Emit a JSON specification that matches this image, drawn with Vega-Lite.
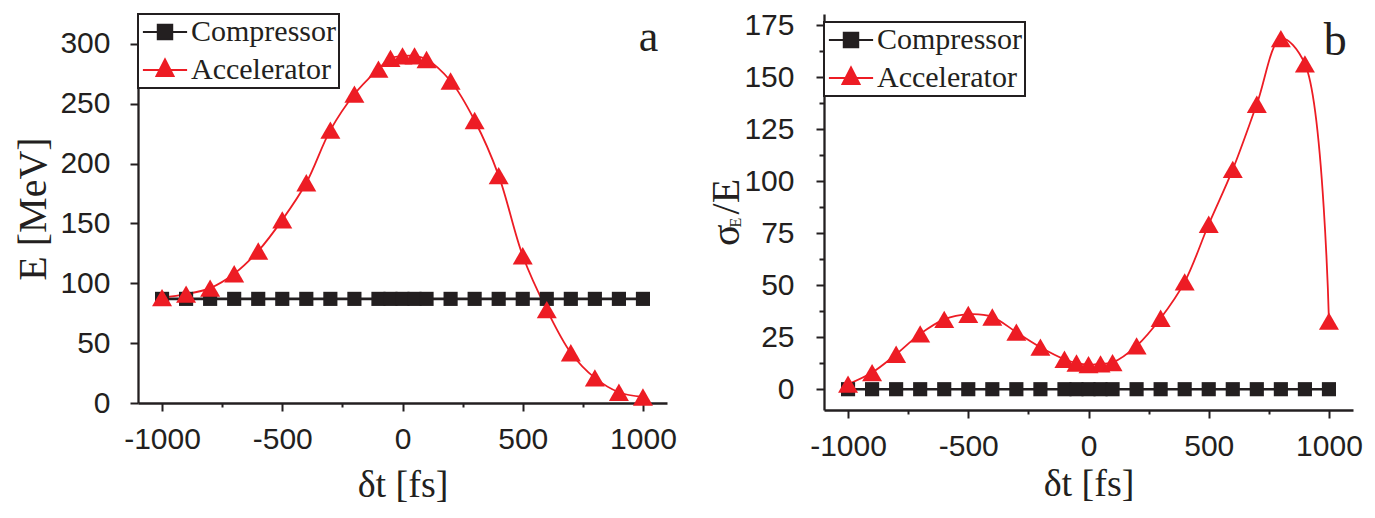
{
  "$schema": "https://vega.github.io/schema/vega-lite/v6.json",
  "padding": {"left": 13, "top": 10, "right": 5, "bottom": 0},
  "background": "white",
  "spacing": 29,
  "config": {
    "view": {"stroke": null},
    "axis": {"grid": false, "domainColor": "#231F20", "domainWidth": 2.3, "tickColor": "#231F20", "tickWidth": 2, "labelFont": "Liberation Sans", "labelFontSize": 30, "labelColor": "#231F20", "titleFont": "Liberation Serif", "titleFontWeight": "normal", "titleColor": "#231F20", "labelOverlap": false, "labelFlush": false, "labelBound": false},
    "legend": {"orient": "top-left", "offset": 0, "title": null, "padding": 3, "rowPadding": 8, "symbolSize": 289, "symbolOffset": 9, "labelOffset": 11, "symbolOpacity": 1, "symbolStrokeWidth": 2, "labelFont": "Liberation Serif", "labelFontSize": 30, "labelColor": "#231F20", "labelLimit": 400, "strokeColor": "#231F20", "strokeWidth": 2, "fillColor": "white"}
  },
  "datasets": {
    "a": [
      {"series": "Compressor", "t": -1000, "v": 87}, {"series": "Compressor", "t": -900, "v": 87}, {"series": "Compressor", "t": -800, "v": 87}, {"series": "Compressor", "t": -700, "v": 87}, {"series": "Compressor", "t": -600, "v": 87}, {"series": "Compressor", "t": -500, "v": 87}, {"series": "Compressor", "t": -400, "v": 87}, {"series": "Compressor", "t": -300, "v": 87}, {"series": "Compressor", "t": -200, "v": 87}, {"series": "Compressor", "t": -100, "v": 87}, {"series": "Compressor", "t": -50, "v": 87}, {"series": "Compressor", "t": 0, "v": 87}, {"series": "Compressor", "t": 50, "v": 87}, {"series": "Compressor", "t": 100, "v": 87}, {"series": "Compressor", "t": 200, "v": 87}, {"series": "Compressor", "t": 300, "v": 87}, {"series": "Compressor", "t": 400, "v": 87}, {"series": "Compressor", "t": 500, "v": 87}, {"series": "Compressor", "t": 600, "v": 87}, {"series": "Compressor", "t": 700, "v": 87}, {"series": "Compressor", "t": 800, "v": 87}, {"series": "Compressor", "t": 900, "v": 87}, {"series": "Compressor", "t": 1000, "v": 87},
      {"series": "Accelerator", "t": -1000, "v": 88}, {"series": "Accelerator", "t": -900, "v": 91}, {"series": "Accelerator", "t": -800, "v": 96}, {"series": "Accelerator", "t": -700, "v": 108}, {"series": "Accelerator", "t": -600, "v": 127}, {"series": "Accelerator", "t": -500, "v": 153}, {"series": "Accelerator", "t": -400, "v": 184}, {"series": "Accelerator", "t": -300, "v": 228}, {"series": "Accelerator", "t": -200, "v": 258}, {"series": "Accelerator", "t": -100, "v": 279}, {"series": "Accelerator", "t": -50, "v": 288}, {"series": "Accelerator", "t": 0, "v": 290}, {"series": "Accelerator", "t": 50, "v": 290}, {"series": "Accelerator", "t": 100, "v": 287}, {"series": "Accelerator", "t": 200, "v": 269}, {"series": "Accelerator", "t": 300, "v": 236}, {"series": "Accelerator", "t": 400, "v": 190}, {"series": "Accelerator", "t": 500, "v": 123}, {"series": "Accelerator", "t": 600, "v": 78}, {"series": "Accelerator", "t": 700, "v": 42}, {"series": "Accelerator", "t": 800, "v": 21}, {"series": "Accelerator", "t": 900, "v": 9}, {"series": "Accelerator", "t": 1000, "v": 5}
    ],
    "b": [
      {"series": "Compressor", "t": -1000, "v": 0}, {"series": "Compressor", "t": -900, "v": 0}, {"series": "Compressor", "t": -800, "v": 0}, {"series": "Compressor", "t": -700, "v": 0}, {"series": "Compressor", "t": -600, "v": 0}, {"series": "Compressor", "t": -500, "v": 0}, {"series": "Compressor", "t": -400, "v": 0}, {"series": "Compressor", "t": -300, "v": 0}, {"series": "Compressor", "t": -200, "v": 0}, {"series": "Compressor", "t": -100, "v": 0}, {"series": "Compressor", "t": -50, "v": 0}, {"series": "Compressor", "t": 0, "v": 0}, {"series": "Compressor", "t": 50, "v": 0}, {"series": "Compressor", "t": 100, "v": 0}, {"series": "Compressor", "t": 200, "v": 0}, {"series": "Compressor", "t": 300, "v": 0}, {"series": "Compressor", "t": 400, "v": 0}, {"series": "Compressor", "t": 500, "v": 0}, {"series": "Compressor", "t": 600, "v": 0}, {"series": "Compressor", "t": 700, "v": 0}, {"series": "Compressor", "t": 800, "v": 0}, {"series": "Compressor", "t": 900, "v": 0}, {"series": "Compressor", "t": 1000, "v": 0},
      {"series": "Accelerator", "t": -1000, "v": 2.4}, {"series": "Accelerator", "t": -900, "v": 8}, {"series": "Accelerator", "t": -800, "v": 16.8}, {"series": "Accelerator", "t": -700, "v": 26.6}, {"series": "Accelerator", "t": -600, "v": 33.6}, {"series": "Accelerator", "t": -500, "v": 36}, {"series": "Accelerator", "t": -400, "v": 34.7}, {"series": "Accelerator", "t": -300, "v": 27.4}, {"series": "Accelerator", "t": -200, "v": 20.2}, {"series": "Accelerator", "t": -100, "v": 14.4}, {"series": "Accelerator", "t": -50, "v": 12.6}, {"series": "Accelerator", "t": 0, "v": 11.8}, {"series": "Accelerator", "t": 50, "v": 12.2}, {"series": "Accelerator", "t": 100, "v": 12.8}, {"series": "Accelerator", "t": 200, "v": 20.8}, {"series": "Accelerator", "t": 300, "v": 34.1}, {"series": "Accelerator", "t": 400, "v": 51.6}, {"series": "Accelerator", "t": 500, "v": 79.3}, {"series": "Accelerator", "t": 600, "v": 105.7}, {"series": "Accelerator", "t": 700, "v": 137}, {"series": "Accelerator", "t": 800, "v": 168.6}, {"series": "Accelerator", "t": 900, "v": 156.4}, {"series": "Accelerator", "t": 1000, "v": 32.7}
    ]
  },
  "resolve": {"legend": {"fill": "independent", "stroke": "independent", "shape": "independent"}},
  "hconcat": [
    {
      "width": 529,
      "height": 389,
      "layer": [
        {
          "data": {"name": "a"},
          "encoding": {
            "x": {"field": "t", "type": "quantitative", "scale": {"domain": [-1100, 1100], "nice": false, "zero": false},
              "axis": {"values": [-1000, -750, -500, -250, 0, 250, 500, 750, 1000], "labelExpr": "datum.value % 500 === 0 ? toString(datum.value) : ''", "tickSize": {"condition": {"test": "datum.value % 500 === 0", "value": 8}, "value": 4}, "labelPadding": 13, "title": "δt [fs]", "titleFontSize": 38, "titlePadding": 12}},
            "y": {"field": "v", "type": "quantitative", "scale": {"domain": [0, 325], "nice": false},
              "axis": {"values": [0, 25, 50, 75, 100, 125, 150, 175, 200, 225, 250, 275, 300, 325], "labelExpr": "datum.value % 50 === 0 ? toString(datum.value) : ''", "labelFontSize": {"condition": {"test": "datum.value % 50 === 0", "value": 30}, "value": 9}, "tickSize": {"condition": {"test": "datum.value % 50 === 0", "value": 8}, "value": 5}, "labelPadding": 20, "title": "E [MeV]", "titleFontSize": 40, "titlePadding": 6}}
          },
          "layer": [
            {
              "mark": {"type": "line", "interpolate": "catmull-rom"},
              "encoding": {
                "detail": {"field": "series", "type": "nominal"},
                "color": {"condition": {"test": "datum.series === 'Compressor'", "value": "#231F20"}, "value": "#ED1C24"},
                "strokeWidth": {"condition": {"test": "datum.series === 'Compressor'", "value": 2.6}, "value": 1.8}
              }
            },
            {
              "mark": {"type": "point", "filled": true, "opacity": 0},
              "encoding": {
                "fill": {"field": "series", "type": "nominal", "scale": {"domain": ["Compressor", "Accelerator"], "range": ["#231F20", "#ED1C24"]}},
                "stroke": {"field": "series", "type": "nominal", "scale": {"domain": ["Compressor", "Accelerator"], "range": ["#231F20", "#ED1C24"]}},
                "shape": {"field": "series", "type": "nominal", "scale": {"domain": ["Compressor", "Accelerator"], "range": ["M-2.6,0H2.6M-0.85,-0.85H0.85V0.85H-0.85Z", "M-2.6,0H2.6M0,-1.25L1.0,0.7H-1.0Z"]}}
              }
            },
            {
              "mark": {"type": "point", "filled": true, "opacity": 1},
              "encoding": {
                "color": {"condition": {"test": "datum.series === 'Compressor'", "value": "#231F20"}, "value": "#ED1C24"},
                "shape": {"condition": {"test": "datum.series === 'Compressor'", "value": "square"}, "value": "triangle-up"},
                "size": {"condition": {"test": "datum.series === 'Compressor'", "value": 200}, "value": 400}
              }
            }
          ]
        },
        {
          "data": {"values": [{"label": "a"}]},
          "mark": {"type": "text", "font": "Liberation Serif", "fontSize": 44, "align": "center", "baseline": "alphabetic", "fill": "#231F20"},
          "encoding": {
            "text": {"field": "label", "type": "nominal"},
            "x": {"datum": 1023, "type": "quantitative"},
            "y": {"datum": 294, "type": "quantitative"}
          }
        }
      ]
    },
    {
      "width": 529,
      "height": 396,
      "resolve": {"axis": {"y": "independent"}},
      "layer": [
        {
          "data": {"name": "b"},
          "encoding": {
            "x": {"field": "t", "type": "quantitative", "scale": {"domain": [-1100, 1100], "nice": false, "zero": false},
              "axis": {"values": [-1000, -750, -500, -250, 0, 250, 500, 750, 1000], "labelExpr": "datum.value % 500 === 0 ? toString(datum.value) : ''", "tickSize": {"condition": {"test": "datum.value % 500 === 0", "value": 8}, "value": 4}, "labelPadding": 13, "title": "δt [fs]", "titleFontSize": 38, "titlePadding": 4}},
            "y": {"field": "v", "type": "quantitative", "scale": {"domain": [-10, 180.4], "nice": false, "zero": false},
              "axis": {"orient": "left", "values": [0, 12.5, 25, 37.5, 50, 62.5, 75, 87.5, 100, 112.5, 125, 137.5, 150, 162.5, 175], "labelExpr": "datum.value % 25 === 0 ? toString(datum.value) : ''", "tickSize": {"condition": {"test": "datum.value % 25 === 0", "value": 8}, "value": 5}, "labelPadding": 22, "title": "σ  /E", "titleFontSize": 40, "titleX": -86, "titleY": 198, "titleAngle": 270, "titleAlign": "center", "titleBaseline": "alphabetic"}}
          },
          "layer": [
            {
              "mark": {"type": "line", "interpolate": "catmull-rom"},
              "encoding": {
                "detail": {"field": "series", "type": "nominal"},
                "color": {"condition": {"test": "datum.series === 'Compressor'", "value": "#231F20"}, "value": "#ED1C24"},
                "strokeWidth": {"condition": {"test": "datum.series === 'Compressor'", "value": 2.6}, "value": 1.8}
              }
            },
            {
              "mark": {"type": "point", "filled": true, "opacity": 0},
              "encoding": {
                "fill": {"field": "series", "type": "nominal", "scale": {"domain": ["Compressor", "Accelerator"], "range": ["#231F20", "#ED1C24"]}, "legend": {"orient": "none", "legendX": 0, "legendY": 8}},
                "stroke": {"field": "series", "type": "nominal", "scale": {"domain": ["Compressor", "Accelerator"], "range": ["#231F20", "#ED1C24"]}, "legend": {"orient": "none", "legendX": 0, "legendY": 8}},
                "shape": {"field": "series", "type": "nominal", "scale": {"domain": ["Compressor", "Accelerator"], "range": ["M-2.6,0H2.6M-0.85,-0.85H0.85V0.85H-0.85Z", "M-2.6,0H2.6M0,-1.25L1.0,0.7H-1.0Z"]}, "legend": {"orient": "none", "legendX": 0, "legendY": 8}}
              }
            },
            {
              "mark": {"type": "point", "filled": true, "opacity": 1},
              "encoding": {
                "color": {"condition": {"test": "datum.series === 'Compressor'", "value": "#231F20"}, "value": "#ED1C24"},
                "shape": {"condition": {"test": "datum.series === 'Compressor'", "value": "square"}, "value": "triangle-up"},
                "size": {"condition": {"test": "datum.series === 'Compressor'", "value": 200}, "value": 400}
              }
            }
          ]
        },
        {
          "data": {"values": [{"label": "b"}]},
          "mark": {"type": "text", "font": "Liberation Serif", "fontSize": 46, "align": "center", "baseline": "alphabetic", "fill": "#231F20"},
          "encoding": {
            "text": {"field": "label", "type": "nominal"},
            "x": {"datum": 1026, "type": "quantitative"},
            "y": {"datum": 160.7, "type": "quantitative",
              "axis": {"orient": "left", "title": "E", "titleFont": "Liberation Serif", "titleFontSize": 16, "titleX": -84, "titleY": 208, "titleAngle": 270, "titleAlign": "center", "titleBaseline": "alphabetic", "labels": false, "ticks": false, "domain": false}}
          }
        }
      ]
    }
  ]
}
